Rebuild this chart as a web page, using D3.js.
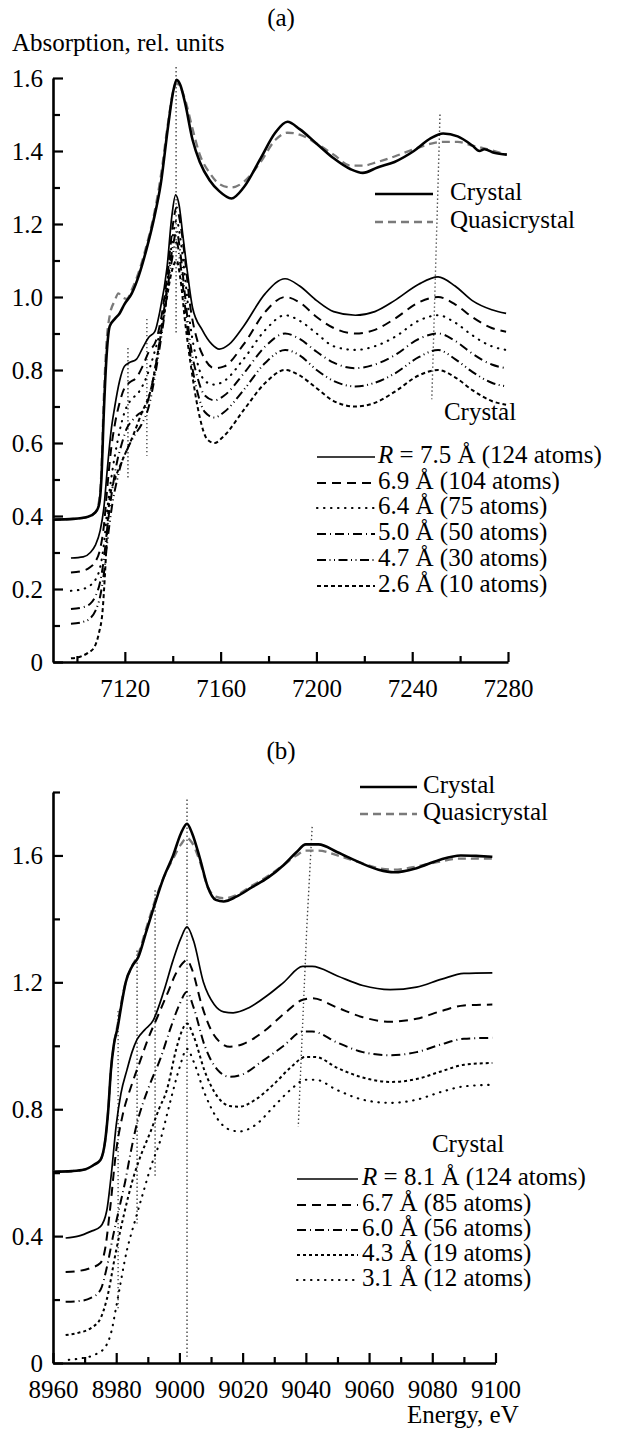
<!DOCTYPE html>
<html>
<head>
<meta charset="utf-8">
<script src="https://cdn.jsdelivr.net/npm/d3@7"></script>
<style>
  body { margin: 0; background: #fff; }
</style>
</head>
<body>
<svg id="chart" width="619" height="1430"></svg>
<script>
// ---- panel (a): Fe K-edge, energy (eV) vs absorption ----
const xMajorA = [7120, 7160, 7200, 7240, 7280];
const xMinorA = [7100, 7140, 7180, 7220, 7260];
const yMajorA = [0, 0.2, 0.4, 0.6, 0.8, 1.0, 1.2, 1.4, 1.6];
const yMinorA = [0.1, 0.3, 0.5, 0.7, 0.9, 1.1, 1.3, 1.5];

const crystalA = [[7090,0.39],[7098.5,0.392],[7104.6,0.398],[7107.7,0.41],[7109.2,0.43],[7110.2,0.5],[7111.2,0.68],[7112.2,0.82],[7113.7,0.92],[7115.8,0.94],[7117.8,0.955],[7119.8,0.98],[7122.9,1.01],[7125.9,1.06],[7129,1.13],[7132,1.21],[7135,1.31],[7138.1,1.47],[7140.1,1.56],[7141.6,1.595],[7143.2,1.58],[7145.2,1.53],[7148.3,1.43],[7151.3,1.37],[7155.4,1.32],[7159.4,1.29],[7164.5,1.27],[7169.6,1.3],[7176.7,1.38],[7182.8,1.45],[7187.9,1.48],[7193,1.46],[7200.1,1.42],[7207.2,1.38],[7214.3,1.35],[7219.4,1.34],[7225.5,1.355],[7232.6,1.37],[7240.7,1.4],[7247.8,1.435],[7252.9,1.448],[7259,1.44],[7265.1,1.415],[7268.1,1.4],[7270.1,1.405],[7274.2,1.395],[7279.5,1.39]];
const quasiA = [[7090,0.39],[7098.5,0.392],[7104.6,0.398],[7107.7,0.41],[7109.2,0.44],[7110.2,0.52],[7111.2,0.72],[7112.2,0.86],[7113.7,0.95],[7115.8,0.99],[7117.3,1.01],[7118.8,1.0],[7120.8,0.995],[7122.9,1.02],[7125.9,1.07],[7129,1.14],[7132,1.22],[7135,1.33],[7138.1,1.48],[7140.1,1.56],[7141.6,1.585],[7143.2,1.575],[7145.2,1.54],[7148.3,1.46],[7151.3,1.39],[7155.4,1.34],[7159.4,1.31],[7164.5,1.3],[7169.6,1.315],[7176.7,1.37],[7182.8,1.43],[7187.9,1.45],[7193,1.445],[7200.1,1.42],[7207.2,1.39],[7214.3,1.36],[7219.4,1.36],[7225.5,1.37],[7232.6,1.385],[7240.7,1.405],[7247.8,1.42],[7252.9,1.425],[7259,1.425],[7265.1,1.415],[7271.2,1.405],[7279.5,1.39]];
const r75A = [[7097.5,0.285],[7102.6,0.288],[7105.6,0.3],[7107.7,0.32],[7109.7,0.36],[7111.2,0.42],[7112.7,0.53],[7114.2,0.63],[7115.8,0.7],[7117.8,0.77],[7119.8,0.81],[7121.8,0.82],[7124.9,0.83],[7127.4,0.86],[7130,0.89],[7132.5,0.905],[7134.6,0.96],[7137.6,1.08],[7139.6,1.22],[7141.2,1.28],[7142.7,1.25],[7144.2,1.17],[7145.9,1.08],[7148.3,0.97],[7152.3,0.91],[7156.4,0.87],[7159.4,0.857],[7163.5,0.87],[7169.6,0.92],[7178.7,1.01],[7186.9,1.05],[7193,1.03],[7200.1,0.99],[7207.2,0.96],[7216.3,0.95],[7224.4,0.96],[7232.6,0.99],[7242.7,1.035],[7250.8,1.055],[7257.9,1.03],[7265.1,0.99],[7273.2,0.965],[7279.2,0.955]];
const r69A = [[7097.5,0.245],[7102.6,0.25],[7105.6,0.26],[7107.7,0.275],[7109.7,0.31],[7111.2,0.37],[7112.7,0.48],[7114.2,0.58],[7115.8,0.65],[7117.8,0.71],[7119.8,0.75],[7121.8,0.765],[7124.9,0.78],[7127.4,0.81],[7130,0.85],[7133,0.88],[7135.1,0.94],[7138.1,1.08],[7140.1,1.2],[7141.6,1.245],[7143.2,1.2],[7145.2,1.1],[7147.2,0.98],[7150.3,0.88],[7153.4,0.83],[7157.4,0.805],[7161.5,0.81],[7169.6,0.87],[7178.7,0.96],[7186.9,1.0],[7193,0.985],[7200.1,0.945],[7207.2,0.915],[7216.3,0.9],[7224.4,0.91],[7232.6,0.94],[7242.7,0.985],[7250.8,1.0],[7257.9,0.98],[7265.1,0.945],[7273.2,0.915],[7279.2,0.905]];
const r64A = [[7097.5,0.195],[7102.6,0.2],[7105.6,0.21],[7107.7,0.225],[7109.7,0.26],[7111.2,0.32],[7112.7,0.42],[7114.7,0.52],[7116.8,0.6],[7118.8,0.66],[7120.8,0.7],[7122.9,0.72],[7125.9,0.74],[7129,0.78],[7132,0.84],[7135.1,0.92],[7138.1,1.06],[7140.1,1.17],[7141.6,1.21],[7143.2,1.16],[7145.2,1.05],[7147.2,0.93],[7150.3,0.82],[7153.4,0.77],[7157.4,0.76],[7161.5,0.77],[7169.6,0.83],[7178.7,0.91],[7186.9,0.95],[7193,0.935],[7200.1,0.9],[7207.2,0.865],[7216.3,0.855],[7224.4,0.865],[7232.6,0.89],[7242.7,0.935],[7250.8,0.95],[7257.9,0.93],[7265.1,0.895],[7273.2,0.865],[7279.2,0.855]];
const r50A = [[7097.5,0.145],[7102.6,0.15],[7105.6,0.16],[7107.7,0.18],[7109.7,0.22],[7111.2,0.28],[7112.7,0.37],[7114.7,0.47],[7116.8,0.55],[7118.8,0.6],[7120.8,0.64],[7122.9,0.66],[7125.9,0.68],[7128,0.69],[7131,0.75],[7134.1,0.86],[7137.1,1.0],[7140.1,1.14],[7141.6,1.18],[7143.2,1.12],[7145.2,1.0],[7147.2,0.88],[7150.3,0.78],[7153.4,0.73],[7157.4,0.717],[7161.5,0.73],[7169.6,0.79],[7178.7,0.865],[7186.9,0.9],[7193,0.885],[7200.1,0.85],[7207.2,0.82],[7216.3,0.805],[7224.4,0.815],[7232.6,0.84],[7242.7,0.885],[7250.8,0.9],[7257.9,0.88],[7265.1,0.845],[7273.2,0.815],[7279.2,0.805]];
const r47A = [[7097.5,0.105],[7102.6,0.11],[7105.6,0.12],[7107.7,0.14],[7109.7,0.18],[7111.2,0.24],[7112.7,0.33],[7114.7,0.43],[7116.8,0.5],[7118.8,0.55],[7120.8,0.58],[7123.9,0.62],[7126.9,0.65],[7130,0.7],[7133,0.8],[7136.1,0.93],[7139.1,1.08],[7141.6,1.15],[7143.2,1.09],[7145.2,0.97],[7147.2,0.85],[7150.3,0.74],[7153.4,0.685],[7157.4,0.67],[7161.5,0.685],[7169.6,0.745],[7178.7,0.82],[7186.9,0.855],[7193,0.84],[7200.1,0.8],[7207.2,0.77],[7216.3,0.755],[7224.4,0.765],[7232.6,0.79],[7242.7,0.835],[7250.8,0.855],[7257.9,0.83],[7265.1,0.795],[7273.2,0.765],[7279.2,0.755]];
const r26A = [[7097.5,0.01],[7101.6,0.015],[7104.6,0.025],[7107.2,0.04],[7109.2,0.08],[7110.7,0.14],[7111.7,0.24],[7112.7,0.37],[7113.7,0.45],[7115.8,0.5],[7118.8,0.55],[7123.4,0.62],[7126.9,0.68],[7131,0.75],[7134.1,0.86],[7137.1,0.98],[7139.6,1.07],[7141.6,1.1],[7143.2,1.05],[7145.2,0.93],[7148.3,0.78],[7151.3,0.67],[7154.4,0.61],[7157.4,0.6],[7161.5,0.62],[7169.6,0.69],[7178.7,0.765],[7186.9,0.8],[7193,0.785],[7200.1,0.75],[7207.2,0.715],[7216.3,0.7],[7224.4,0.71],[7232.6,0.74],[7242.7,0.785],[7250.8,0.8],[7257.9,0.78],[7265.1,0.745],[7273.2,0.715],[7279.2,0.705]];
// dotted guide lines (energy, absorption) pairs
const guidesA = [
  [[7141.4,1.63],[7141.4,0.9]],
  [[7121.3,0.86],[7121.3,0.5]],
  [[7129.2,0.94],[7129.2,0.565]],
  [[7251.6,1.5],[7248.2,0.72]]
];
const labelsA = ["R = 7.5 Å (124 atoms)", "6.9 Å (104 atoms)", "6.4 Å (75 atoms)", "5.0 Å (50 atoms)", "4.7 Å (30 atoms)", "2.6 Å (10 atoms)"];

// ---- panel (b): Cu K-edge ----
const xMajorB = [8960, 8980, 9000, 9020, 9040, 9060, 9080, 9100];
const xMinorB = [8970, 8990, 9010, 9030, 9050, 9070, 9090];
const yMajorB = [0, 0.4, 0.8, 1.2, 1.6];
const yMinorB = [0.2, 0.6, 1.0, 1.4, 1.8];

const crystalB = [[8960,0.603],[8966,0.605],[8970,0.61],[8973,0.625],[8975,0.64],[8976.5,0.7],[8977.5,0.8],[8978.3,0.92],[8979.2,1.0],[8980.5,1.06],[8981.5,1.12],[8983,1.2],[8985,1.25],[8987,1.28],[8989.5,1.36],[8992,1.44],[8995,1.53],[8998,1.6],[9000.5,1.67],[9002.4,1.7],[9004,1.67],[9006.5,1.59],[9009,1.5],[9011.5,1.46],[9014,1.455],[9018,1.47],[9023,1.5],[9028,1.53],[9033,1.57],[9037,1.61],[9040,1.635],[9044,1.635],[9050,1.61],[9057,1.578],[9063,1.555],[9068,1.547],[9075,1.56],[9082,1.585],[9089,1.6],[9095,1.598],[9099,1.596]];
const quasiB = [[8960,0.603],[8966,0.605],[8970,0.61],[8973,0.625],[8975,0.64],[8976.5,0.7],[8977.5,0.8],[8978.3,0.92],[8979.2,1.0],[8980.5,1.07],[8981.5,1.13],[8983,1.2],[8985,1.25],[8987,1.29],[8989.5,1.37],[8992,1.45],[8995,1.53],[8998,1.59],[9000.5,1.635],[9002.4,1.655],[9004,1.64],[9006.5,1.58],[9009,1.5],[9011.5,1.47],[9014,1.465],[9018,1.475],[9023,1.505],[9028,1.535],[9033,1.57],[9037,1.6],[9040,1.615],[9044,1.615],[9050,1.6],[9057,1.578],[9063,1.56],[9068,1.555],[9075,1.565],[9082,1.58],[9089,1.59],[9095,1.59],[9099,1.59]];
const r81B = [[8964,0.394],[8968,0.4],[8972,0.415],[8975,0.43],[8977,0.48],[8978.5,0.6],[8980,0.75],[8981.5,0.85],[8983.4,0.924],[8985,0.98],[8986.6,1.02],[8989,1.05],[8991.7,1.08],[8995,1.17],[8998,1.27],[9000.5,1.34],[9002.4,1.375],[9004.5,1.33],[9007.6,1.2],[9011,1.13],[9014,1.107],[9017,1.104],[9022,1.12],[9028,1.16],[9033,1.2],[9039,1.25],[9042,1.25],[9050,1.22],[9058,1.19],[9066.7,1.177],[9075,1.185],[9083,1.21],[9090,1.228],[9099,1.23]];
const r67B = [[8964,0.287],[8968,0.29],[8972,0.3],[8975,0.315],[8976.5,0.36],[8978,0.48],[8980,0.67],[8982,0.78],[8985,0.88],[8987.5,0.95],[8990,1.02],[8993,1.09],[8996,1.16],[8999,1.23],[9001,1.26],[9002.4,1.27],[9004,1.24],[9007,1.13],[9010,1.05],[9013,1.01],[9016,0.997],[9020,1.005],[9026,1.04],[9033,1.1],[9039,1.145],[9042,1.15],[9050,1.12],[9058,1.09],[9066.7,1.076],[9075,1.085],[9083,1.11],[9090,1.127],[9099,1.13]];
const r60B = [[8964,0.193],[8968,0.195],[8972,0.205],[8975,0.23],[8977,0.3],[8979,0.4],[8981,0.49],[8982.8,0.57],[8984.5,0.66],[8986.6,0.757],[8988.5,0.82],[8990.7,0.88],[8994,0.96],[8997,1.05],[9000,1.13],[9002.4,1.17],[9004.5,1.12],[9008,1.0],[9012,0.925],[9016,0.902],[9020,0.91],[9026,0.95],[9033,1.0],[9039,1.045],[9042,1.045],[9050,1.01],[9058,0.98],[9066.7,0.97],[9075,0.98],[9083,1.005],[9090,1.022],[9099,1.025]];
const r43B = [[8964,0.088],[8968,0.095],[8972,0.11],[8975,0.14],[8977,0.2],[8980,0.356],[8982.5,0.47],[8985,0.57],[8988,0.66],[8990.7,0.725],[8993.5,0.8],[8996,0.86],[8999,0.99],[9000.5,1.04],[9002.4,1.07],[9004.5,1.03],[9008,0.92],[9012,0.84],[9016,0.81],[9019,0.808],[9024,0.83],[9030,0.88],[9035,0.93],[9040,0.965],[9043,0.965],[9050,0.93],[9058,0.9],[9066.7,0.886],[9075,0.895],[9083,0.92],[9090,0.94],[9099,0.946]];
const r31B = [[8965,0.01],[8969,0.015],[8973,0.025],[8976.5,0.05],[8978.5,0.1],[8980,0.177],[8983.4,0.356],[8986,0.45],[8988.5,0.536],[8991,0.62],[8993.9,0.7],[8997,0.82],[9000,0.93],[9002.4,0.99],[9004.5,0.95],[9008,0.85],[9012,0.77],[9016,0.735],[9019,0.73],[9024,0.75],[9030,0.81],[9035,0.86],[9040,0.893],[9043,0.893],[9050,0.86],[9058,0.83],[9066.7,0.82],[9075,0.83],[9083,0.855],[9090,0.872],[9099,0.877]];
const guidesB = [
  [[9002.4,1.776],[9002.4,0.02]],
  [[8986.6,1.3],[8986.6,0.44]],
  [[8992.3,1.49],[8992.3,0.59]],
  [[8980.6,1.11],[8980.6,0.17]],
  [[9042,1.69],[9040.3,1.375],[9037.6,0.745]]
];
const labelsB = ["R = 8.1 Å (124 atoms)", "6.7 Å (85 atoms)", "6.0 Å (56 atoms)", "4.3 Å (19 atoms)", "3.1 Å (12 atoms)"];

const topLabels = ["Crystal", "Quasicrystal"];

const FONT = "'Liberation Serif', 'Times New Roman', Times, serif";

// line styles
const sThick = { stroke: "#000", width: 2.6, dash: null };
const sQuasi = { stroke: "#7a7a7a", width: 2.3, dash: "8,5" };
const sSolid = { stroke: "#000", width: 1.7, dash: null };
const sDash = { stroke: "#000", width: 2, dash: "9,6" };
const sDot = { stroke: "#000", width: 2.1, dash: "0.5,6.5", cap: "round" };
const sDashDot = { stroke: "#000", width: 2, dash: "9,4,1,4" };
const sDashDotDot = { stroke: "#000", width: 2, dash: "9,3.5,1,3.5,1,3.5" };
const sShort = { stroke: "#000", width: 2, dash: "4,3" };
const sShortB = { stroke: "#000", width: 2, dash: "3,3" };

const svg = d3.select("#chart");

function applyStyle(sel, s) {
  sel.attr("fill", "none")
    .attr("stroke", s.stroke)
    .attr("stroke-width", s.width)
    .attr("stroke-dasharray", s.dash)
    .attr("stroke-linecap", s.cap || "butt");
}

function addText(x, y, str, anchor) {
  return svg.append("text").attr("x", x).attr("y", y)
    .attr("text-anchor", anchor || "start")
    .style("font-family", FONT).style("font-size", "25px").attr("fill", "#000")
    .text(str);
}

function drawPanel(p) {
  const x = d3.scaleLinear().domain(p.xDomain).range([p.left, p.right]);
  const y = d3.scaleLinear().domain(p.yDomain).range([p.bottom, p.top]);
  const g = svg.append("g");

  // axes, ticks pointing inward
  g.append("g").attr("transform", `translate(0,${p.bottom})`)
    .call(d3.axisBottom(x).tickValues(p.xMinor).tickSize(-6).tickSizeOuter(0).tickFormat(""))
    .call(a => a.select(".domain").remove());
  g.append("g").attr("transform", `translate(0,${p.bottom})`)
    .call(d3.axisBottom(x).tickValues(p.xMajor).tickSize(-10).tickSizeOuter(0).tickPadding(17).tickFormat(d3.format("d")));
  g.append("g").attr("transform", `translate(${p.left},0)`)
    .call(d3.axisLeft(y).tickValues(p.yMinor).tickSize(-7).tickSizeOuter(0).tickFormat(""))
    .call(a => a.select(".domain").remove());
  g.append("g").attr("transform", `translate(${p.left},0)`)
    .call(d3.axisLeft(y).tickValues(p.yMajor).tickSize(-10).tickSizeOuter(0).tickPadding(10)
      .tickFormat(d => d === 0 ? "0" : d3.format(".1f")(d)));
  g.selectAll(".domain").attr("stroke-width", 2.6);
  g.selectAll(".tick line").attr("stroke-width", 2.2);
  g.selectAll(".tick text").style("font-family", FONT).style("font-size", "25px");

  const line = d3.line().x(d => x(d[0])).y(d => y(d[1])).curve(d3.curveMonotoneX);
  const lineStraight = d3.line().x(d => x(d[0])).y(d => y(d[1]));

  g.selectAll("path.guide").data(p.guides).enter().append("path")
    .attr("class", "guide")
    .attr("d", lineStraight)
    .attr("fill", "none").attr("stroke", "#444").attr("stroke-width", 1.4)
    .attr("stroke-dasharray", "1.4,2.6");

  p.series.forEach(s => {
    g.append("path").datum(s.data).attr("d", line).call(applyStyle, s.style);
  });
}

drawPanel({
  xDomain: [7090, 7280], left: 53, right: 508,
  yDomain: [0, 1.6], bottom: 662, top: 78,
  xMajor: xMajorA, xMinor: xMinorA, yMajor: yMajorA, yMinor: yMinorA,
  guides: guidesA,
  series: [
    { data: r26A, style: sShort }, { data: r47A, style: sDashDotDot }, { data: r50A, style: sDashDot },
    { data: r64A, style: sDot }, { data: r69A, style: sDash }, { data: r75A, style: sSolid },
    { data: quasiA, style: sQuasi }, { data: crystalA, style: sThick }
  ]
});

drawPanel({
  xDomain: [8960, 9100], left: 53, right: 495.5,
  yDomain: [0, 1.8], bottom: 1363, top: 792,
  xMajor: xMajorB, xMinor: xMinorB, yMajor: yMajorB, yMinor: yMinorB,
  guides: guidesB,
  series: [
    { data: r31B, style: sDot }, { data: r43B, style: sShortB }, { data: r60B, style: sDashDot },
    { data: r67B, style: sDash }, { data: r81B, style: sSolid },
    { data: quasiB, style: sQuasi }, { data: crystalB, style: sThick }
  ]
});

// titles
addText(281, 26, "(a)", "middle");
addText(12, 51, "Absorption, rel. units");
addText(281, 759, "(b)", "middle");
addText(407, 1423, "Energy, eV");

function legend(items, x0, x1, tx, baselines) {
  const g = svg.append("g");
  items.forEach((it, i) => {
    const b = baselines[i];
    g.append("line").attr("x1", x0).attr("x2", x1).attr("y1", b - 6).attr("y2", b - 6)
      .call(applyStyle, it.style);
    const t = addText(tx, b, null);
    if (it.label.startsWith("R = ")) {
      t.append("tspan").style("font-style", "italic").text("R");
      t.append("tspan").text(it.label.slice(1));
    } else {
      t.text(it.label);
    }
  });
}

// top legends (crystal vs quasicrystal)
legend([{ label: topLabels[0], style: sThick }, { label: topLabels[1], style: sQuasi }],
  375, 433, 450, [200, 228]);
legend([{ label: topLabels[0], style: sThick }, { label: topLabels[1], style: sQuasi }],
  360, 417, 423, [793, 820]);

// cluster-size legends
addText(480, 420, "Crystal", "middle");
legend(labelsA.map((l, i) => ({ label: l, style: [sSolid, sDash, sDot, sDashDot, sDashDotDot, sShort][i] })),
  317, 375, 378, [463, 489, 514, 540, 566, 592]);

addText(468, 1152, "Crystal", "middle");
legend(labelsB.map((l, i) => ({ label: l, style: [sSolid, sDash, sDashDot, sShortB, sDot][i] })),
  297, 358, 362, [1185, 1211, 1236, 1261, 1286]);
</script>
</body>
</html>
